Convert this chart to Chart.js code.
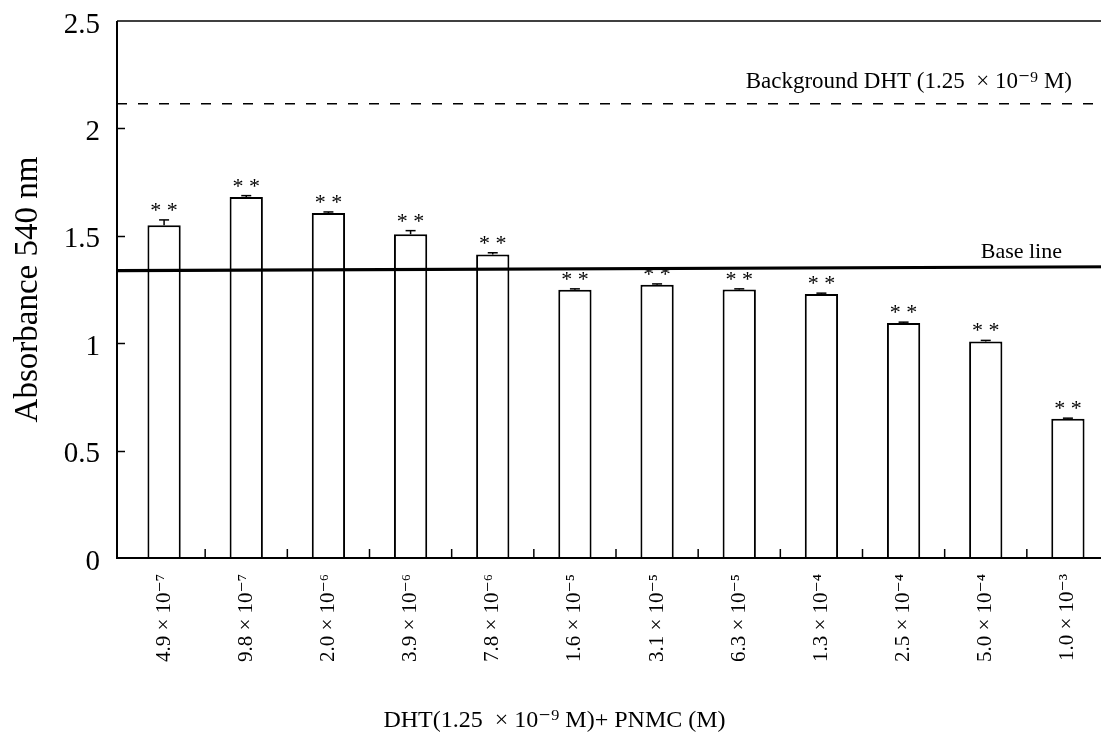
<!DOCTYPE html>
<html><head><meta charset="utf-8">
<script src="https://cdn.jsdelivr.net/npm/chart.js@4/dist/chart.umd.min.js"></script>
<style>
html,body{margin:0;padding:0;background:#fff;overflow:hidden;width:1101px;height:745px}
#wrap{width:1115px;height:745px}
</style></head>
<body><div id="wrap"><canvas id="c" width="1115" height="745"></canvas></div>
<script>
const categories = ["4.9 × 10⁻⁷", "9.8 × 10⁻⁷", "2.0 × 10⁻⁶", "3.9 × 10⁻⁶", "7.8 × 10⁻⁶", "1.6 × 10⁻⁵",
                    "3.1 × 10⁻⁵", "6.3 × 10⁻⁵", "1.3 × 10⁻⁴", "2.5 × 10⁻⁴", "5.0 × 10⁻⁴", "1.0 × 10⁻³"];
const absorbance = [1.549, 1.681, 1.606, 1.507, 1.413, 1.249, 1.272, 1.250, 1.229, 1.094, 1.008, 0.648];
const errors = [0.025, 0.006, 0.005, 0.017, 0.008, 0.004, 0.004, 0.003, 0.004, 0.004, 0.005, 0.003];
const significance = ["**", "**", "**", "**", "**", "**", "**", "**", "**", "**", "**", "**"];
const yTicks = [0, 0.5, 1, 1.5, 2, 2.5];
const backgroundDHT = 2.115;
const baseLine = [1.338, 1.356];
const backgroundLabel = "Background DHT (1.25  × 10⁻⁹ M)";
const baseLineLabel = "Base line";
const xTitle = "DHT(1.25  × 10⁻⁹ M)+ PNMC (M)";
const yTitle = "Absorbance 540 nm";

const SERIF = "'Liberation Serif', 'DejaVu Serif', serif";

const overlay = {
  id: 'overlay',
  afterDatasetsDraw(chart) {
    const {ctx, chartArea: a, scales: {x, y}} = chart;
    const L = a.left - 6, R = chart.width;
    ctx.save();
    ctx.strokeStyle = '#000';
    ctx.fillStyle = '#000';
    // frame
    ctx.lineWidth = 1.5;
    ctx.beginPath(); ctx.moveTo(L, a.top); ctx.lineTo(R, a.top); ctx.stroke();
    ctx.lineWidth = 2;
    ctx.beginPath(); ctx.moveTo(L, a.top); ctx.lineTo(L, a.bottom); ctx.lineTo(R, a.bottom); ctx.stroke();
    // inward y ticks
    ctx.lineWidth = 1.5;
    yTicks.slice(1, -1).forEach(v => {
      const py = Math.round(y.getPixelForValue(v)) + 0.5;
      ctx.beginPath(); ctx.moveTo(L, py); ctx.lineTo(L + 8, py); ctx.stroke();
    });
    // inward x ticks at category boundaries
    for (let i = 0; i < categories.length - 1; i++) {
      const px = (x.getPixelForValue(i) + x.getPixelForValue(i + 1)) / 2;
      ctx.beginPath(); ctx.moveTo(px, a.bottom); ctx.lineTo(px, a.bottom - 9); ctx.stroke();
    }
    // error bars and significance marks
    const meta = chart.getDatasetMeta(0);
    ctx.font = "22px " + SERIF;
    ctx.textAlign = 'center';
    ctx.textBaseline = 'alphabetic';
    meta.data.forEach((bar, i) => {
      const top = y.getPixelForValue(absorbance[i] + errors[i]);
      ctx.lineWidth = 1.5;
      ctx.beginPath(); ctx.moveTo(bar.x, bar.y); ctx.lineTo(bar.x, top); ctx.stroke();
      ctx.beginPath(); ctx.moveTo(bar.x - 5, top); ctx.lineTo(bar.x + 5, top); ctx.stroke();
      ctx.fillText(significance[i].split('').join(' '), bar.x, top - 3);
    });
    // background DHT dashed line
    const yb = y.getPixelForValue(backgroundDHT);
    ctx.setLineDash([10, 11]);
    ctx.lineWidth = 1.6;
    ctx.beginPath(); ctx.moveTo(L, yb); ctx.lineTo(R, yb); ctx.stroke();
    ctx.setLineDash([]);
    // base line
    const y0 = y.getPixelForValue(baseLine[0]), y1 = y.getPixelForValue(baseLine[1]);
    ctx.lineWidth = 3.2;
    ctx.beginPath(); ctx.moveTo(L, y0); ctx.lineTo(R, y1); ctx.stroke();
    // labels
    ctx.textAlign = 'right';
    ctx.font = "23px " + SERIF;
    ctx.fillText(backgroundLabel, a.right - 37, yb - 16);
    ctx.font = "22px " + SERIF;
    ctx.fillText(baseLineLabel, a.right - 47, y1 - 9);
    ctx.restore();
  }
};

new Chart(document.getElementById('c'), {
  type: 'bar',
  data: {
    labels: categories,
    datasets: [{
      data: absorbance,
      backgroundColor: '#fff',
      borderColor: '#000',
      borderWidth: 2,
      barPercentage: 0.405,
      categoryPercentage: 1.0
    }]
  },
  options: {
    responsive: false,
    animation: false,
    layout: {padding: {top: 21, left: 0, right: 6, bottom: 0}},
    plugins: {
      legend: {display: false},
      tooltip: {enabled: false},
      title: {
        display: true, position: 'bottom', text: xTitle, color: '#000',
        font: {family: SERIF, size: 24, weight: 'normal'},
        padding: {top: 0, bottom: 10}
      }
    },
    scales: {
      x: {
        offset: true,
        grid: {display: false, drawTicks: false},
        border: {display: false},
        ticks: {
          color: '#000', maxRotation: 90, minRotation: 90, padding: 16,
          font: {family: SERIF, size: 21}
        },
        afterFit(s) { s.height = 148.2; s.paddingLeft = 0; s.paddingRight = 0; }
      },
      y: {
        min: 0, max: 2.5,
        grid: {display: false, drawTicks: false},
        border: {display: false},
        afterBuildTicks(s) { s.ticks = yTicks.map(v => ({value: v})); },
        ticks: {
          color: '#000', padding: 23, labelOffset: 4,
          font: {family: SERIF, size: 29},
          callback: v => String(v)
        },
        title: {
          display: true, text: yTitle, color: '#000',
          font: {family: SERIF, size: 33},
          padding: {top: 9, bottom: 0}
        },
        afterFit(s) { s.width = 123; s.paddingTop = 0; s.paddingBottom = 0; }
      }
    }
  },
  plugins: [overlay]
});
</script>
</body></html>
